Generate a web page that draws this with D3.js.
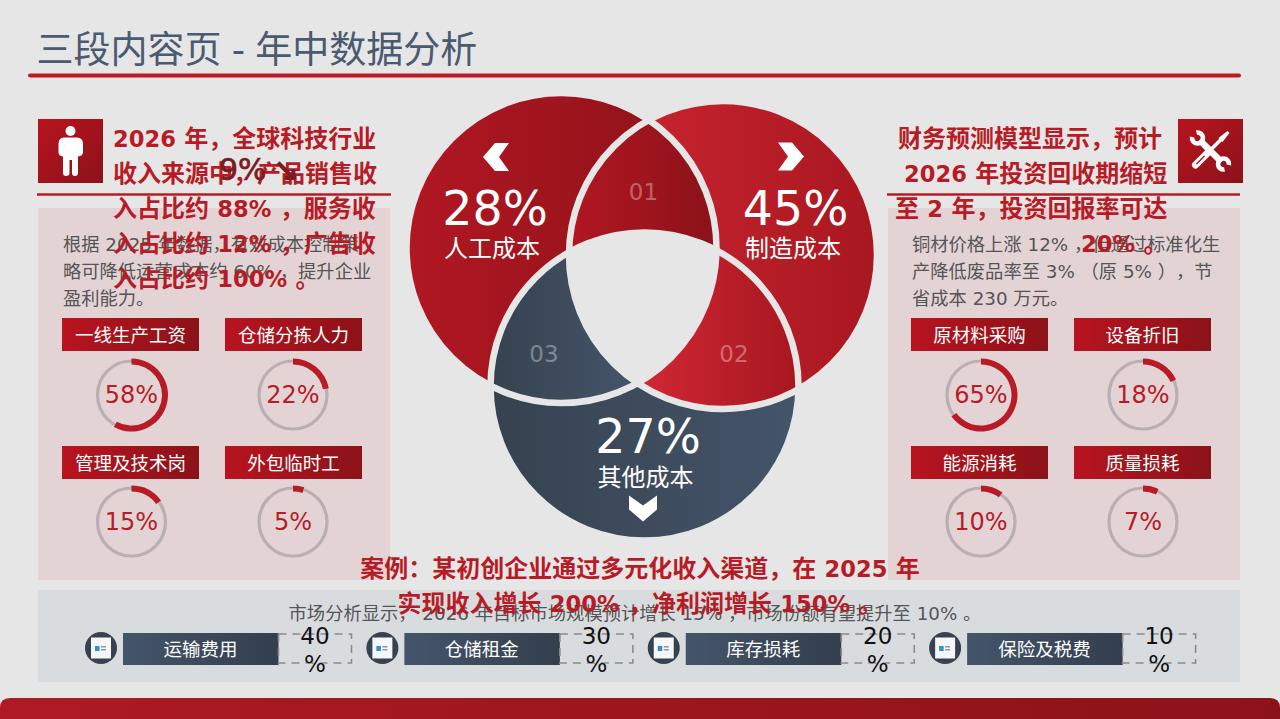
<!DOCTYPE html>
<html lang="zh">
<head>
<meta charset="utf-8">
<title>三段内容页 - 年中数据分析</title>
<script src="https://cdn.jsdelivr.net/npm/d3@7"></script>
<style>
  html, body { margin: 0; padding: 0; background: #e6e6e6; overflow: hidden; }
  svg { display: block; }
  text { font-family: "DejaVu Sans", "Noto Sans CJK SC", sans-serif; text-spacing-trim: space-all; }
</style>
</head>
<body>
<div id="chart"></div>
<script>
// Venn summary
const vennLabels = ["人工成本", "制造成本", "其他成本"];
const vennShares = [28, 45, 27];
const vennNumbers = ["01", "02", "03"];

// Gauges left and right of the venn
const leftGaugeLabels = ["一线生产工资", "仓储分拣人力", "管理及技术岗", "外包临时工"];
const leftGaugeValues = [58, 22, 15, 5];
const rightGaugeLabels = ["原材料采购", "设备折旧", "能源消耗", "质量损耗"];
const rightGaugeValues = [65, 18, 10, 7];

// Bottom strip
const stripLabels = ["运输费用", "仓储租金", "库存损耗", "保险及税费"];
const stripValues = [40, 30, 20, 10];

// Copy
const titleText = "三段内容页 - 年中数据分析";
const leftHeading = ["2026 年，全球科技行业", "收入来源中，产品销售收", "入占比约 88% ，服务收", "入占比约 12% ，广告收", "入占比约 100% 。"];
const leftBody = ["根据 2025 年数据，有效成本控制策", "略可降低运营成本约 60% ，提升企业", "盈利能力。"];
const rightHeading = ["财务预测模型显示，预计", "2026 年投资回收期缩短", "至 2 年，投资回报率可达", "20% 。"];
const rightBody = ["铜材价格上涨 12% ，但通过标准化生", "产降低废品率至 3% （原 5% ），节", "省成本 230 万元。"];
const caseHeading = ["案例：某初创企业通过多元化收入渠道，在 2025 年", "实现收入增长 200% ，净利润增长 150% 。"];
const marketText = "市场分析显示， 2026 年目标市场规模预计增长 15% ，市场份额有望提升至 10% 。";
const trendValue = "9%";
const trendArrow = "↘";

const W = 1280, H = 719;
const red = "#b71c26", bg = "#e6e6e6";

const svg = d3.select("#chart").append("svg").attr("width", W).attr("height", H);
const defs = svg.append("defs");

function gradient(id, stops, x2 = 1, y2 = 0) {
  const g = defs.append("linearGradient").attr("id", id)
    .attr("x1", 0).attr("y1", 0).attr("x2", x2).attr("y2", y2);
  stops.forEach((c, i) => g.append("stop")
    .attr("offset", i / (stops.length - 1)).attr("stop-color", c));
}
// gradient that runs across one lens of the venn, not the whole disc
function lensGradient(id, stops, from, to) {
  const g = defs.append("linearGradient").attr("id", id)
    .attr("gradientUnits", "userSpaceOnUse")
    .attr("x1", from).attr("y1", 0).attr("x2", to).attr("y2", 0);
  stops.forEach((c, i) => g.append("stop")
    .attr("offset", i / (stops.length - 1)).attr("stop-color", c));
}
gradient("gDark", ["#b11722", "#8c1219"]);
gradient("gBright", ["#d02833", "#a81720"]);
gradient("gNavy", ["#36424f", "#44546a"]);
gradient("gNavyBox", ["#44546a", "#333f4d"]);
gradient("gTag", ["#b8141f", "#8c1219"]);
gradient("gIcon", ["#b8141f", "#8c1219"], 1, 1);
gradient("gBottom", ["#ae1a23", "#8c1219"]);
lensGradient("gLens1", ["#b11722", "#8c1219"], 570, 715);
lensGradient("gLens2", ["#d02833", "#a81720"], 640, 795);
lensGradient("gLens3", ["#36424f", "#44546a"], 493, 630);

svg.append("rect").attr("width", W).attr("height", H).attr("fill", bg);

// Title and rule
svg.append("text").attr("x", 36.5).attr("y", 63).attr("word-spacing", -1.5)
  .attr("font-size", 37).attr("fill", "#4a5a70").text(titleText);
svg.append("line").attr("x1", 30).attr("x2", 1239).attr("y1", 75.5).attr("y2", 75.5)
  .attr("stroke", red).attr("stroke-width", 4).attr("stroke-linecap", "round");

// Panels
[[38, 208, 352, 372, "#e3d3d5"], [888, 208, 352, 372, "#e3d3d5"], [38, 590, 1202, 92, "#d9dcdf"]]
  .forEach(([x, y, w, h, c]) => svg.append("rect")
    .attr("x", x).attr("y", y).attr("width", w).attr("height", h).attr("fill", c));

// Rules below the icons
[[37, 391], [887, 1240]].forEach(([a, b]) => svg.append("line")
  .attr("x1", a).attr("x2", b).attr("y1", 194.5).attr("y2", 194.5)
  .attr("stroke", red).attr("stroke-width", 2.5));

// Bottom bar
svg.append("path")
  .attr("d", "M0,719 V708 Q0,698 10,698 H1270 Q1280,698 1280,708 V719 Z")
  .attr("fill", "url(#gBottom)");

// Venn
const circles = [
  { cx: 561.5, cy: 248, r: 155 },
  { cx: 723, cy: 255, r: 154 },
  { cx: 644.5, cy: 386.5, r: 154 }
];
const clip = (id, c, parent) => defs.append("clipPath").attr("id", id)
  .attr("clip-path", parent ? `url(#${parent})` : null)
  .append("circle").attr("cx", c.cx).attr("cy", c.cy).attr("r", c.r);
clip("clipA", circles[0]);
clip("clipB", circles[1]);
clip("clipAB", circles[1], "clipA");

const venn = svg.append("g");
const disc = (c, fill, clipId) => venn.append("circle")
  .attr("cx", c.cx).attr("cy", c.cy).attr("r", c.r).attr("fill", fill)
  .attr("clip-path", clipId ? `url(#${clipId})` : null);

disc(circles[0], "url(#gDark)");
disc(circles[1], "url(#gBright)");
disc(circles[1], "url(#gLens1)", "clipA");  // 01 lens
disc(circles[2], "url(#gNavy)");
disc(circles[2], "url(#gLens2)", "clipB");  // 02 lens
disc(circles[2], "url(#gLens3)", "clipA");  // 03 lens
disc(circles[2], bg, "clipAB");             // empty centre
circles.forEach(c => venn.append("circle")
  .attr("cx", c.cx).attr("cy", c.cy).attr("r", c.r)
  .attr("fill", "none").attr("stroke", bg).attr("stroke-width", 6.5));

// Venn labels
const vennSpots = [
  { x: 495, y: 225, lx: 492, ly: 257 },
  { x: 795.5, y: 225, lx: 793, ly: 257 },
  { x: 648, y: 453, lx: 645.5, ly: 486 }
];
vennSpots.forEach((p, i) => {
  svg.append("text").attr("x", p.x).attr("y", p.y).attr("text-anchor", "middle")
    .attr("font-size", 47.5).attr("fill", "#fff").text(vennShares[i] + "%");
  svg.append("text").attr("x", p.lx).attr("y", p.ly).attr("text-anchor", "middle")
    .attr("font-size", 24).attr("fill", "#fff").text(vennLabels[i]);
});
[[643.5, 200], [734, 362], [544, 362]].forEach(([x, y], i) => svg.append("text")
  .attr("x", x).attr("y", y).attr("text-anchor", "middle")
  .attr("font-size", 23).attr("fill", "#fff").attr("fill-opacity", 0.35).text(vennNumbers[i]));

// Chevrons
const chevron = "M0,-14 L14,-14 L4,0 L14,14 L0,14 L-12,0 Z";
svg.append("path").attr("d", chevron).attr("fill", "#fff")
  .attr("transform", "translate(495,157)");
svg.append("path").attr("d", chevron).attr("fill", "#fff")
  .attr("transform", "translate(792,156.5) scale(-1,1)");
svg.append("path").attr("d", chevron).attr("fill", "#fff")
  .attr("transform", "translate(643,509.5) rotate(-90)");

// Icon squares
[38, 1178].forEach(x => svg.append("rect")
  .attr("x", x).attr("y", 119).attr("width", 65).attr("height", 64).attr("fill", "url(#gIcon)"));

// Person icon
const person = svg.append("g").attr("fill", "#fff");
person.append("circle").attr("cx", 70.5).attr("cy", 131).attr("r", 5);
person.append("path").attr("d",
  "M64,137.5 H77 Q83,137.5 83,144 V152 Q83,156 78,156.5 V173 Q78,176 75,176 Q72,176 72,173 V160 H69.5 V173 Q69.5,176 66,176 Q63,176 63,173 V156.5 Q58.5,156 58.5,152 V144 Q58.5,137.5 64,137.5 Z");

// Tools icon: screwdriver first, wrench across it
const tools = svg.append("g").attr("transform", "translate(1210.5,151)");
tools.append("line").attr("x1", -15).attr("y1", 14).attr("x2", -3).attr("y2", 2)
  .attr("stroke", "#fff").attr("stroke-width", 7).attr("stroke-linecap", "round");
tools.append("line").attr("x1", -14).attr("y1", 13).attr("x2", -6).attr("y2", 5)
  .attr("stroke", "#a5161f").attr("stroke-width", 1.5);
tools.append("line").attr("x1", -3).attr("y1", 2).attr("x2", 11).attr("y2", -12)
  .attr("stroke", "#fff").attr("stroke-width", 3.5);
tools.append("path").attr("d", "M8,-13 L17,-20 L19,-18 L12,-9 Z").attr("fill", "#fff");
tools.append("line").attr("x1", -11).attr("y1", -11).attr("x2", 11).attr("y2", 11)
  .attr("stroke", "#fff").attr("stroke-width", 6.5);
[[-13, -13, -45], [13, 13, 135]].forEach(([x, y, a]) => tools.append("path")
  .attr("transform", `translate(${x},${y}) rotate(${a})`)
  .attr("d", d3.arc()({ innerRadius: 3.2, outerRadius: 7.8, startAngle: 0.6, endAngle: 2 * Math.PI - 0.6 }))
  .attr("fill", "#fff"));

// Bold latin in the headings sets a little narrower than the CJK around it
function headingLine(sel, t) {
  t.split(/([0-9%]+)/).filter(s => s).forEach(part => {
    sel.append("tspan")
      .attr("font-size", /[0-9%]/.test(part) ? 22.6 : 24)
      .text(part);
  });
}

// Text blocks
function block(lines, xs, y0, step, size, fill) {
  lines.forEach((t, i) => svg.append("text")
    .attr("x", xs).attr("y", y0 + i * step)
    .attr("font-size", size).attr("fill", fill).text(t));
}
function heading(lines, xs, y0, step) {
  lines.forEach((t, i) => {
    const el = svg.append("text")
      .attr("x", Array.isArray(xs) ? xs[i] : xs).attr("y", y0 + i * step)
      .attr("font-weight", "bold").attr("fill", red);
    headingLine(el, t);
  });
}
block(leftBody, 63, 251, 27, 18.3, "#555");
block(rightBody, 912, 251, 27, 18.3, "#555");
heading(leftHeading, 113, 147, 35);
heading(rightHeading, [898, 904, 895, 1081], 147, 35);

const trend = svg.append("text").attr("x", 219).attr("y", 180).attr("font-size", 30)
  .attr("fill", "#7d1a22").attr("stroke", "#7d1a22").attr("stroke-width", 0.7);
trend.append("tspan").text(trendValue);
trend.append("tspan").attr("dx", 7).attr("stroke-width", 1.6).text(trendArrow);

// Gauges
const gaugeAngle = d3.scaleLinear().domain([0, 100]).range([0, 2 * Math.PI]);
const gaugeArc = d3.arc().innerRadius(30.5).outerRadius(36.5);

function gaugeGroup(labels, values, tagXs, centres) {
  labels.forEach((label, i) => {
    const col = i % 2, row = Math.floor(i / 2);
    const top = 318 + row * 128;
    svg.append("rect").attr("x", tagXs[col]).attr("y", top)
      .attr("width", 137).attr("height", 33).attr("fill", "url(#gTag)");
    svg.append("text").attr("x", tagXs[col] + 68.5).attr("y", top + 23.5)
      .attr("text-anchor", "middle").attr("font-size", 18.5).attr("fill", "#fff").text(label);

    const g = svg.append("g").attr("transform", `translate(${centres[col]},${395 + row * 127})`);
    g.append("circle").attr("r", 34).attr("fill", "none")
      .attr("stroke", "#b9afb2").attr("stroke-width", 3.2);
    g.append("path").attr("fill", red)
      .attr("d", gaugeArc({ startAngle: 0, endAngle: gaugeAngle(values[i]) }));
    g.append("text").attr("y", 8).attr("text-anchor", "middle")
      .attr("font-size", 24).attr("fill", red).text(values[i] + "%");
  });
}
gaugeGroup(leftGaugeLabels, leftGaugeValues, [62, 225], [131.5, 293]);
gaugeGroup(rightGaugeLabels, rightGaugeValues, [911, 1074], [981, 1143]);

// Case heading and market line
svg.append("text").attr("x", 635).attr("y", 620).attr("text-anchor", "middle")
  .attr("font-size", 18.3).attr("fill", "#555").text(marketText);
caseHeading.forEach((t, i) => {
  const el = svg.append("text")
    .attr("x", 640).attr("y", 577 + i * 35).attr("text-anchor", "middle")
    .attr("font-weight", "bold").attr("fill", red);
  headingLine(el, t);
});

// Bottom strip items
const stripX = d3.scaleBand().domain(d3.range(stripLabels.length)).range([101, 1226.5]);
stripLabels.forEach((label, i) => {
  const x0 = stripX(i);
  const g = svg.append("g").attr("transform", `translate(${x0},0)`);
  g.append("circle").attr("cy", 648).attr("r", 16).attr("fill", "#36424f");
  g.append("rect").attr("x", -10).attr("y", 637.5).attr("width", 20).attr("height", 21).attr("fill", "#f4f6f8");
  g.append("rect").attr("x", -6).attr("y", 646).attr("width", 4.5).attr("height", 5).attr("fill", "#2f8fcf");
  g.append("rect").attr("x", 0).attr("y", 646).attr("width", 5).attr("height", 1.5).attr("fill", "#8a97a5");
  g.append("rect").attr("x", 0).attr("y", 649).attr("width", 5).attr("height", 1.5).attr("fill", "#8a97a5");
  g.append("rect").attr("x", 22).attr("y", 633).attr("width", 155.5).attr("height", 32).attr("fill", "url(#gNavyBox)");
  g.append("text").attr("x", 99.5).attr("y", 655.5).attr("text-anchor", "middle")
    .attr("font-size", 18.5).attr("fill", "#fff").text(label);
  g.append("rect").attr("x", 177.5).attr("y", 634).attr("width", 73).attr("height", 29)
    .attr("fill", "none").attr("stroke", "#8b8b8b").attr("stroke-width", 1.6).attr("stroke-dasharray", "8,6");
  g.append("text").attr("x", 214).attr("y", 644).attr("text-anchor", "middle")
    .attr("font-size", 23).attr("fill", "#111").text(stripValues[i]);
  g.append("text").attr("x", 214).attr("y", 672).attr("text-anchor", "middle")
    .attr("font-size", 23).attr("fill", "#111").text("%");
});
</script>
</body>
</html>
